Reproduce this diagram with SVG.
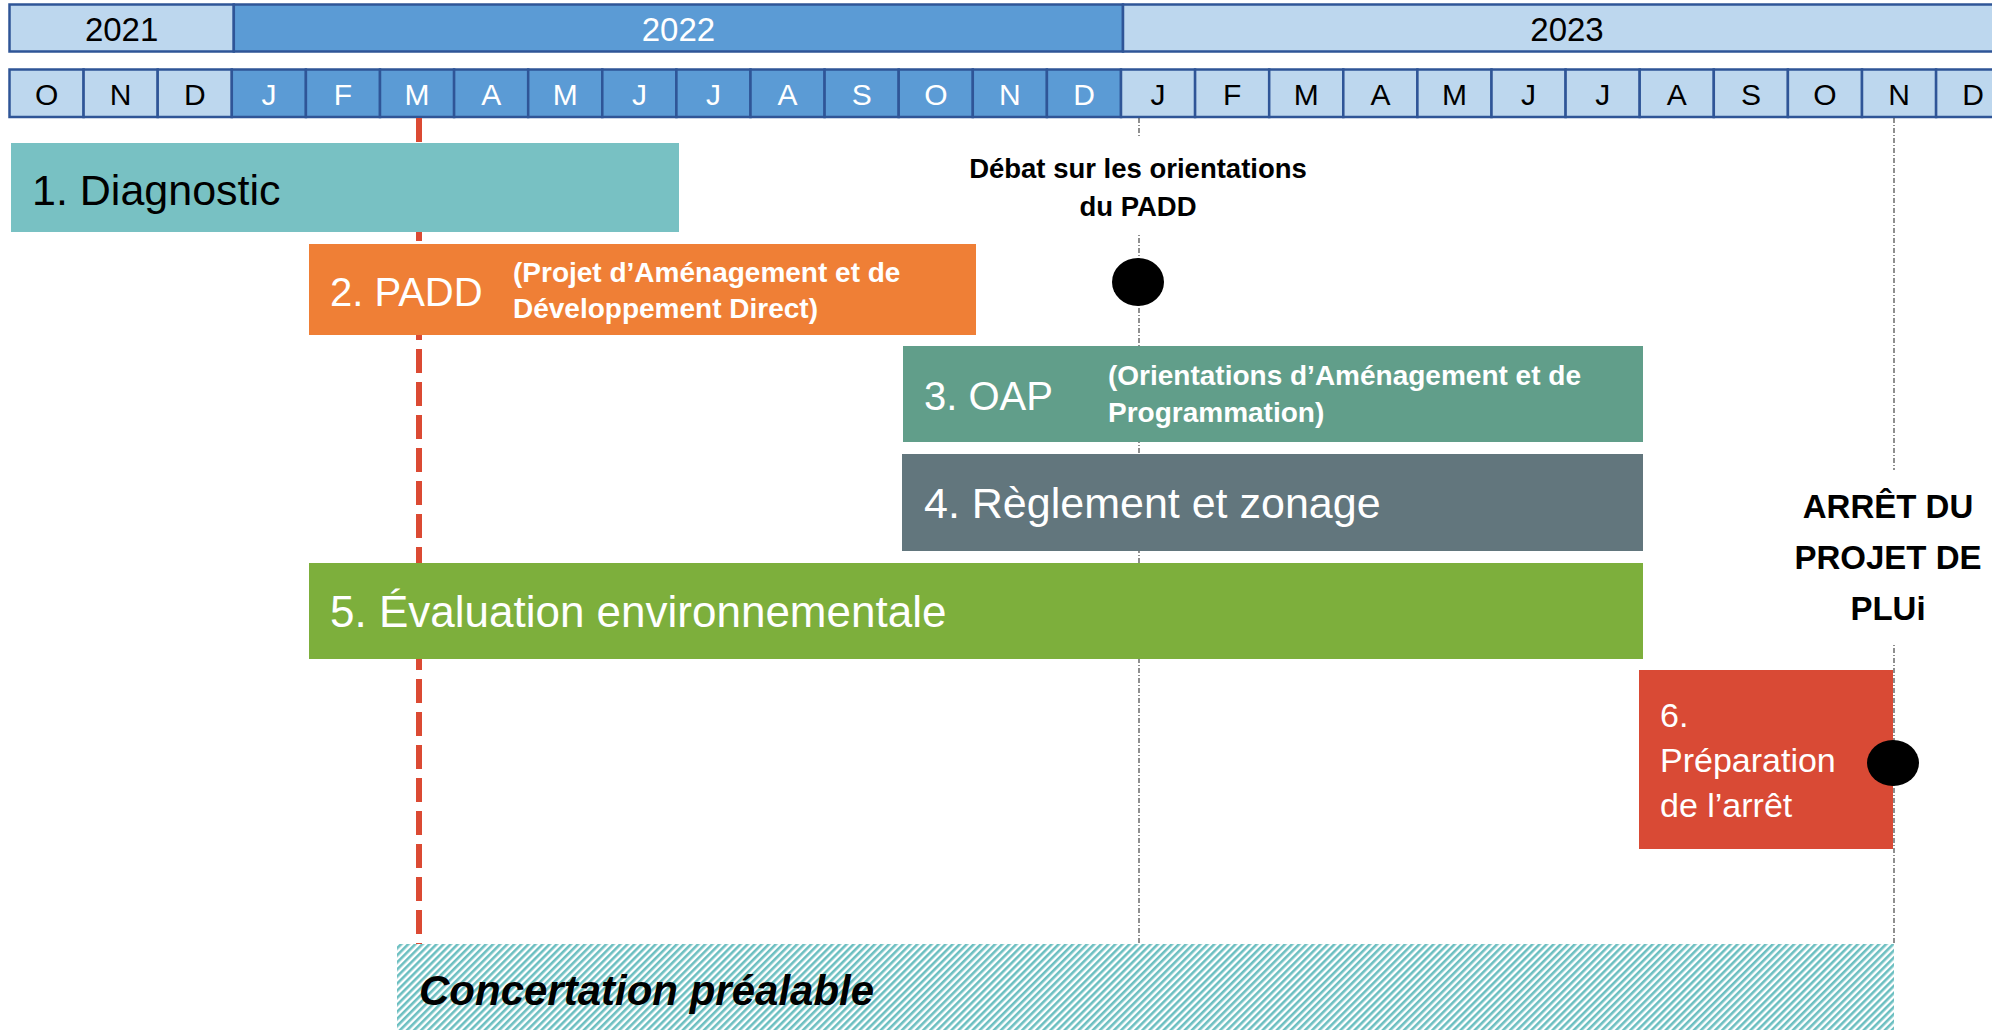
<svg xmlns="http://www.w3.org/2000/svg" width="1992" height="1030" viewBox="0 0 1992 1030">
<style>
.cl{fill:#BDD7EE;stroke:#2F5597;stroke-width:2.5}
.cd{fill:#5B9BD5;stroke:#2F5597;stroke-width:2.5}
.t{font-family:"Liberation Sans",Arial,sans-serif}
.tb{font-family:"Liberation Sans",Arial,sans-serif;font-weight:bold}
.vd{stroke:#333;stroke-width:1.1;stroke-dasharray:5 2 1 2;fill:none}
</style>
<defs>
<pattern id="hatch" patternUnits="userSpaceOnUse" width="5" height="5" patternTransform="rotate(45)">
<rect width="5" height="5" fill="#fff"/>
<rect width="2.6" height="5" fill="#6CBFC1"/>
</pattern>
</defs>
<rect width="1992" height="1030" fill="#fff"/>

<g id="years">
<rect class="cl" x="9.5" y="4.5" width="224.3" height="47"/>
<rect class="cd" x="233.8" y="4.5" width="889.2" height="47"/>
<rect class="cl" x="1123" y="4.5" width="889" height="47"/>
<text class="t" x="121.6" y="41" font-size="33" text-anchor="middle" fill="#000">2021</text>
<text class="t" x="678.4" y="41" font-size="33" text-anchor="middle" fill="#fff">2022</text>
<text class="t" x="1567" y="41" font-size="33" text-anchor="middle" fill="#000">2023</text>
</g>

<g id="months" font-family="Liberation Sans, Arial, sans-serif" font-size="30" text-anchor="middle">
<rect class="cl" x="9.5" y="69.5" width="74.1" height="47.5"/>
<rect class="cl" x="83.6" y="69.5" width="74.1" height="47.5"/>
<rect class="cl" x="157.7" y="69.5" width="74.1" height="47.5"/>
<rect class="cd" x="231.8" y="69.5" width="74.1" height="47.5"/>
<rect class="cd" x="305.9" y="69.5" width="74.1" height="47.5"/>
<rect class="cd" x="380" y="69.5" width="74.1" height="47.5"/>
<rect class="cd" x="454.1" y="69.5" width="74.1" height="47.5"/>
<rect class="cd" x="528.2" y="69.5" width="74.1" height="47.5"/>
<rect class="cd" x="602.3" y="69.5" width="74.1" height="47.5"/>
<rect class="cd" x="676.4" y="69.5" width="74.1" height="47.5"/>
<rect class="cd" x="750.5" y="69.5" width="74.1" height="47.5"/>
<rect class="cd" x="824.6" y="69.5" width="74.1" height="47.5"/>
<rect class="cd" x="898.7" y="69.5" width="74.1" height="47.5"/>
<rect class="cd" x="972.8" y="69.5" width="74.1" height="47.5"/>
<rect class="cd" x="1046.9" y="69.5" width="74.1" height="47.5"/>
<rect class="cl" x="1121" y="69.5" width="74.1" height="47.5"/>
<rect class="cl" x="1195.1" y="69.5" width="74.1" height="47.5"/>
<rect class="cl" x="1269.2" y="69.5" width="74.1" height="47.5"/>
<rect class="cl" x="1343.3" y="69.5" width="74.1" height="47.5"/>
<rect class="cl" x="1417.4" y="69.5" width="74.1" height="47.5"/>
<rect class="cl" x="1491.5" y="69.5" width="74.1" height="47.5"/>
<rect class="cl" x="1565.6" y="69.5" width="74.1" height="47.5"/>
<rect class="cl" x="1639.7" y="69.5" width="74.1" height="47.5"/>
<rect class="cl" x="1713.8" y="69.5" width="74.1" height="47.5"/>
<rect class="cl" x="1787.9" y="69.5" width="74.1" height="47.5"/>
<rect class="cl" x="1862" y="69.5" width="74.1" height="47.5"/>
<rect class="cl" x="1936.1" y="69.5" width="74.1" height="47.5"/>
<g fill="#000">
<text x="46.6" y="104.5">O</text><text x="120.7" y="104.5">N</text><text x="194.8" y="104.5">D</text>
</g>
<g fill="#fff">
<text x="268.9" y="104.5">J</text><text x="343" y="104.5">F</text><text x="417.1" y="104.5">M</text><text x="491.2" y="104.5">A</text><text x="565.3" y="104.5">M</text><text x="639.4" y="104.5">J</text><text x="713.5" y="104.5">J</text><text x="787.6" y="104.5">A</text><text x="861.7" y="104.5">S</text><text x="935.8" y="104.5">O</text><text x="1009.9" y="104.5">N</text><text x="1084" y="104.5">D</text>
</g>
<g fill="#000">
<text x="1158.1" y="104.5">J</text><text x="1232.2" y="104.5">F</text><text x="1306.3" y="104.5">M</text><text x="1380.4" y="104.5">A</text><text x="1454.5" y="104.5">M</text><text x="1528.6" y="104.5">J</text><text x="1602.7" y="104.5">J</text><text x="1676.8" y="104.5">A</text><text x="1750.9" y="104.5">S</text><text x="1825" y="104.5">O</text><text x="1899.1" y="104.5">N</text><text x="1973.2" y="104.5">D</text>
</g>
</g>

<g id="connectors">
<line x1="419" y1="118" x2="419" y2="944" stroke="#DB4A33" stroke-width="6" stroke-dasharray="24 9"/>
<line class="vd" x1="1139" y1="118" x2="1139" y2="944"/>
<line class="vd" x1="1894" y1="118" x2="1894" y2="944"/>
</g>

<g id="n1">
<rect x="11" y="143" width="668" height="89" fill="#78C1C3"/>
<text class="t" x="32" y="205" font-size="43" fill="#000">1. Diagnostic</text>
</g>

<g id="n2">
<rect x="309" y="244" width="667" height="91" fill="#EF7F36"/>
<text class="t" x="330" y="306" font-size="40" fill="#fff">2. PADD</text>
<text class="tb" x="513" y="282" font-size="28" fill="#fff">(Projet d’Aménagement et de</text>
<text class="tb" x="513" y="318" font-size="28" fill="#fff">Développement Direct)</text>
</g>

<g id="n3">
<rect x="903" y="346" width="740" height="96" fill="#619E8A"/>
<text class="t" x="924" y="410" font-size="40" fill="#fff">3. OAP</text>
<text class="tb" x="1108" y="385" font-size="28" fill="#fff">(Orientations d’Aménagement et de</text>
<text class="tb" x="1108" y="422" font-size="28" fill="#fff">Programmation)</text>
</g>

<g id="n4">
<rect x="902" y="454" width="741" height="97" fill="#62767D"/>
<text class="t" x="924" y="518" font-size="43" fill="#fff">4. Règlement et zonage</text>
</g>

<g id="n5">
<rect x="309" y="563" width="1334" height="96" fill="#7DAF3C"/>
<text class="t" x="330" y="627" font-size="44" fill="#fff">5. Évaluation environnementale</text>
</g>

<g id="n6">
<rect x="1639" y="670" width="254" height="179" fill="#D94A35"/>
<text class="t" x="1660" y="727" font-size="34" fill="#fff">6.</text>
<text class="t" x="1660" y="772" font-size="34" fill="#fff">Préparation</text>
<text class="t" x="1660" y="817" font-size="34" fill="#fff">de l’arrêt</text>
</g>

<g id="n7">
<rect x="397" y="944" width="1497" height="90" fill="url(#hatch)"/>
<text class="tb" x="419" y="1005" font-size="42" font-style="italic" fill="#000">Concertation préalable</text>
</g>

<g id="m1">
<rect x="955" y="136" width="368" height="98" fill="#fff"/>
<text class="tb" x="1138" y="178" font-size="27.5" text-anchor="middle" fill="#000">Débat sur les orientations</text>
<text class="tb" x="1138" y="216" font-size="27.5" text-anchor="middle" fill="#000">du PADD</text>
<ellipse cx="1138" cy="282" rx="26" ry="24" fill="#000"/>
</g>

<g id="m2">
<rect x="1790" y="470" width="202" height="173" fill="#fff"/>
<text class="tb" x="1888" y="518" font-size="33" text-anchor="middle" fill="#000">ARRÊT DU</text>
<text class="tb" x="1888" y="569" font-size="33" text-anchor="middle" fill="#000">PROJET DE</text>
<text class="tb" x="1888" y="620" font-size="33" text-anchor="middle" fill="#000">PLUi</text>
<ellipse cx="1893" cy="763" rx="26" ry="23" fill="#000"/>
</g>
</svg>
